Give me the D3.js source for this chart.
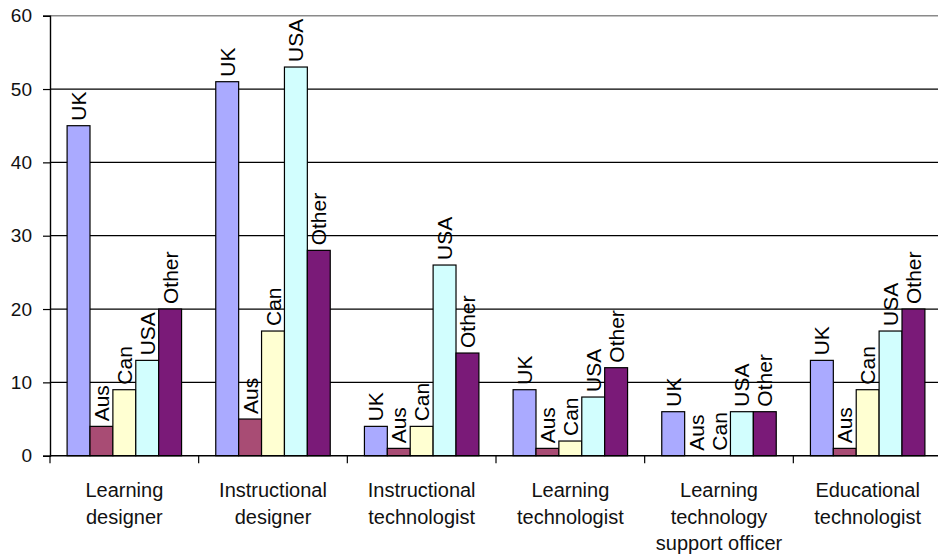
<!DOCTYPE html>
<html>
<head>
<meta charset="utf-8">
<script src="https://cdn.jsdelivr.net/npm/d3@7/dist/d3.min.js"></script>
<style>
  html, body { margin: 0; padding: 0; background: #fff; }
  svg { display: block; font-family: "Liberation Sans", Arial, sans-serif; }
</style>
</head>
<body>
<svg id="chart" width="938" height="559"></svg>
<script>
// Job titles (category axis), one group of bars each
const categories = [
  ["Learning", "designer"],
  ["Instructional", "designer"],
  ["Instructional", "technologist"],
  ["Learning", "technologist"],
  ["Learning", "technology", "support officer"],
  ["Educational", "technologist"]
];

// Series (countries) and their counts per job title
const seriesNames = ["UK", "Aus", "Can", "USA", "Other"];
const ukValues    = [45, 51, 4, 9, 6, 13];
const ausValues   = [4, 5, 1, 1, 0, 1];
const canValues   = [9, 17, 4, 2, 0, 9];
const usaValues   = [13, 53, 26, 8, 6, 17];
const otherValues = [20, 28, 14, 12, 6, 20];
const seriesColors = ["#aaaaff", "#a84c74", "#ffffd2", "#d2fefe", "#7a1a78"];

const yTicks = [0, 10, 20, 30, 40, 50, 60];

const seriesValues = [ukValues, ausValues, canValues, usaValues, otherValues];

const svg = d3.select("#chart");
const plot = { left: 50, right: 942, top: 15.7, bottom: 455.7 };

const y = d3.scaleLinear().domain([0, 60]).range([plot.bottom, plot.top]);
const x0 = d3.scaleBand()
  .domain(d3.range(categories.length))
  .range([plot.left, plot.right])
  .paddingInner(0).paddingOuter(0);
const groupPad = x0.bandwidth() * 0.115;
const x1 = d3.scaleBand()
  .domain(seriesNames)
  .range([groupPad, x0.bandwidth() - groupPad])
  .padding(0);

// Horizontal gridlines
svg.append("g")
  .selectAll("line")
  .data(yTicks.filter(t => t > 0))
  .join("line")
  .attr("x1", plot.left).attr("x2", plot.right)
  .attr("y1", d => y(d)).attr("y2", d => y(d))
  .attr("stroke", d => d === 60 ? "#8a8a8a" : "#000")
  .attr("stroke-width", d => d === 60 ? 1.6 : 1.2);

// Bars
const groups = svg.append("g")
  .selectAll("g")
  .data(categories.map((c, i) => i))
  .join("g")
  .attr("transform", i => `translate(${x0(i)},0)`);

groups.selectAll("rect")
  .data(i => seriesNames.map((s, k) => ({ s, k, v: seriesValues[k][i] })))
  .join("rect")
  .filter(d => d.v > 0)
  .attr("x", d => x1(d.s))
  .attr("y", d => y(d.v))
  .attr("width", x1.bandwidth())
  .attr("height", d => y(0) - y(d.v))
  .attr("fill", d => seriesColors[d.k])
  .attr("stroke", "#000")
  .attr("stroke-width", 1.2);

// Rotated series labels above each bar
groups.selectAll("text")
  .data(i => seriesNames.map((s, k) => ({ s, k, v: seriesValues[k][i] })))
  .join("text")
  .attr("transform", d => {
    const cx = x1(d.s) + x1.bandwidth() / 2 + 7.5;
    const cy = y(d.v) - 5;
    return `translate(${cx},${cy}) rotate(-90)`;
  })
  .attr("text-anchor", "start")
  .attr("font-size", 21)
  .attr("fill", "#000")
  .text(d => d.s);

// Y axis
const yAxis = d3.axisLeft(y).tickValues(yTicks).tickSize(7).tickPadding(11);
const gy = svg.append("g")
  .attr("transform", `translate(${plot.left},0)`)
  .call(yAxis);
gy.select(".domain").attr("stroke", "#000").attr("stroke-width", 1.4);
gy.selectAll(".tick line").attr("stroke", "#000").attr("stroke-width", 1.2);
gy.selectAll(".tick text")
  .attr("font-size", 19)
  .attr("font-family", "'Liberation Sans', Arial, sans-serif")
  .attr("fill", "#111");

// X axis baseline and category separators
svg.append("line")
  .attr("x1", plot.left).attr("x2", plot.right)
  .attr("y1", y(0)).attr("y2", y(0))
  .attr("stroke", "#000").attr("stroke-width", 1.4);

svg.append("g")
  .selectAll("line")
  .data(d3.range(categories.length + 1))
  .join("line")
  .attr("x1", i => i < categories.length ? x0(i) : plot.right)
  .attr("x2", i => i < categories.length ? x0(i) : plot.right)
  .attr("y1", y(0)).attr("y2", y(0) + 7.5)
  .attr("stroke", "#000").attr("stroke-width", 1.2);

// Category labels (multi-line)
const catLabels = svg.append("g")
  .selectAll("text")
  .data(categories.map((c, i) => ({ c, i })))
  .join("text")
  .attr("text-anchor", "middle")
  .attr("font-size", 20)
  .attr("fill", "#111");

catLabels.selectAll("tspan")
  .data(d => d.c.map((line, j) => ({ line, j, i: d.i })))
  .join("tspan")
  .attr("x", d => x0(d.i) + x0.bandwidth() / 2)
  .attr("y", d => 497 + d.j * 26.5)
  .text(d => d.line);
</script>
</body>
</html>
